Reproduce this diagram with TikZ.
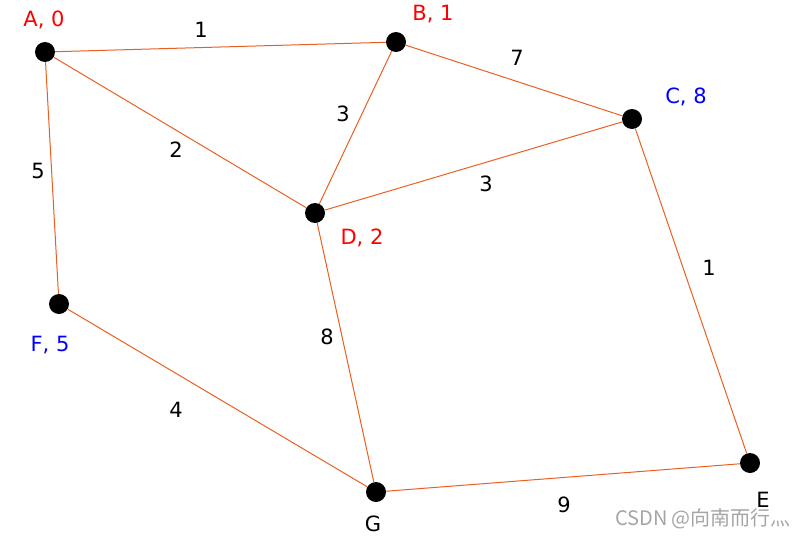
\documentclass[tikz,border=0pt]{standalone}
\usepackage{fontspec}
\setmainfont{DejaVu Sans}
\newfontfamily\cjkfont{Noto Sans CJK SC}
\usetikzlibrary{positioning}
\definecolor{EdgeOrange}{RGB}{234,96,34}
\definecolor{MarkGray}{RGB}{165,165,165}

\begin{document}
\begin{tikzpicture}[
  x=1pt, y=-1pt,
  vertex/.style={
    circle,
    fill=black,
    minimum size=20pt,
    inner sep=0pt
  },
  edge/.style={draw=EdgeOrange, line width=1pt},
  lbl/.style={font=\fontsize{21}{25}\selectfont, inner sep=0pt},
  reached/.style={lbl, text=red},
  pending/.style={lbl, text=blue},
  weight/.style={lbl, text=black}
]
\useasboundingbox (0,0) rectangle (808,538);

% vertices
\node[vertex] (A) at (45,52) {};
\node[vertex] (B) at (396,42) {};
\node[vertex] (C) at (632,119) {};
\node[vertex] (D) at (315,213) {};
\node[vertex] (F) at (59,304) {};
\node[vertex] (G) at (376,492) {};
\node[vertex] (E) at (750,463) {};

% vertex names with distances
\node[reached] (Alab) at (44,20) {A, 0};
\node[reached] (Blab) at (433,14) {B, 1};
\node[pending] (Clab) at (686,97) {C, 8};
\node[reached] (Dlab) at (362,238) {D, 2};
\node[pending] (Flab) at (50,345) {F, 5};
\node[weight] (Glab) at (373,524) {G};
\node[weight] (Elab) at (763,500) {E};

% edges
\draw[edge] (A) -- (B);
\draw[edge] (B) -- (C);
\draw[edge] (A) -- (D);
\draw[edge] (B) -- (D);
\draw[edge] (D) -- (C);
\draw[edge] (A) -- (F);
\draw[edge] (C) -- (E);
\draw[edge] (D) -- (G);
\draw[edge] (F) -- (G);
\draw[edge] (G) -- (E);

% weights
\node[weight] (wAB) at (201,30) {1};
\node[weight] (wBC) at (517,58) {7};
\node[weight] (wAD) at (176,150) {2};
\node[weight] (wBD) at (343,114) {3};
\node[weight] (wDC) at (486,184) {3};
\node[weight] (wAF) at (38,171) {5};
\node[weight] (wCE) at (709,268) {1};
\node[weight] (wDG) at (327,337) {8};
\node[weight] (wFG) at (176,410) {4};
\node[weight] (wGE) at (564,505) {9};

\node[text=MarkGray, font=\cjkfont\fontsize{20}{23}\selectfont, inner sep=0pt]
  (mark) at (703,519) {CSDN @向南而行灬};

\end{tikzpicture}
\end{document}
